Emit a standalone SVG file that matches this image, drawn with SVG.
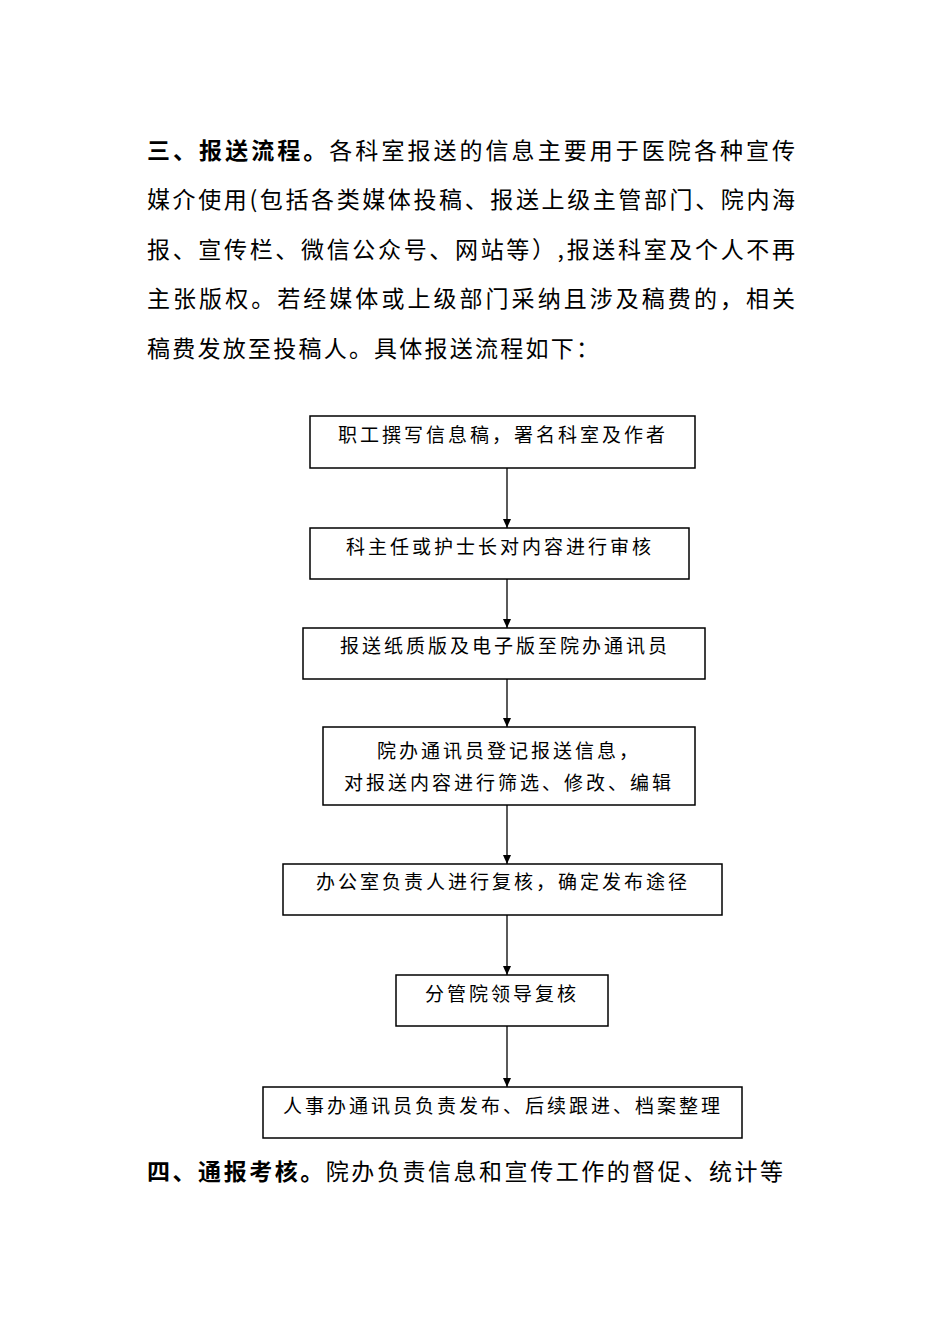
<svg xmlns="http://www.w3.org/2000/svg" width="950" height="1344" viewBox="0 0 950 1344">
<style>
.p{font-family:"Noto Sans CJK SC",sans-serif;font-size:23px;fill:#000}
.b{font-weight:bold}
.t{font-family:"Noto Sans CJK SC",sans-serif;font-size:19px;fill:#000;text-anchor:middle;letter-spacing:3px}
.n{fill:#fff;stroke:#000;stroke-width:1.5}
.c{stroke:#000;stroke-width:1.3;marker-end:url(#a)}
</style>
<defs><marker id="a" markerWidth="10" markerHeight="10" refX="9" refY="5" orient="auto" markerUnits="userSpaceOnUse"><path d="M0,1 L9,5 L0,9 Z" fill="#000"/></marker></defs>
<rect width="950" height="1344" fill="#fff"/>
<g id="text">
<text class="p" x="147" y="159" textLength="648"><tspan class="b">三、报送流程。</tspan>各科室报送的信息主要用于医院各种宣传</text>
<text class="p" x="147" y="208" textLength="648">媒介使用(包括各类媒体投稿、报送上级主管部门、院内海</text>
<text class="p" x="147" y="258" textLength="648">报、宣传栏、微信公众号、网站等）,报送科室及个人不再</text>
<text class="p" x="147" y="307" textLength="648">主张版权。若经媒体或上级部门采纳且涉及稿费的，相关</text>
<text class="p" x="147" y="357" textLength="452">稿费发放至投稿人。具体报送流程如下：</text>
<text class="p" x="147" y="1180" textLength="636"><tspan class="b">四、通报考核。</tspan>院办负责信息和宣传工作的督促、统计等</text>
</g>
<g id="connectors">
<line class="c" x1="507" y1="468" x2="507" y2="528"/>
<line class="c" x1="507" y1="579" x2="507" y2="628"/>
<line class="c" x1="507" y1="679" x2="507" y2="727"/>
<line class="c" x1="507" y1="805" x2="507" y2="864"/>
<line class="c" x1="507" y1="915" x2="507" y2="975"/>
<line class="c" x1="507" y1="1026" x2="507" y2="1087"/>
</g>
<g id="n1"><rect class="n" x="310" y="416" width="385" height="52"/><text class="t" x="503" y="442">职工撰写信息稿，署名科室及作者</text></g>
<g id="n2"><rect class="n" x="310" y="528" width="379" height="51"/><text class="t" x="500" y="554">科主任或护士长对内容进行审核</text></g>
<g id="n3"><rect class="n" x="303" y="628" width="402" height="51"/><text class="t" x="505" y="653">报送纸质版及电子版至院办通讯员</text></g>
<g id="n4"><rect class="n" x="323" y="727" width="372" height="78"/><text class="t" x="509" y="758">院办通讯员登记报送信息，</text><text class="t" x="509" y="790">对报送内容进行筛选、修改、编辑</text></g>
<g id="n5"><rect class="n" x="283" y="864" width="439" height="51"/><text class="t" x="503" y="889">办公室负责人进行复核，确定发布途径</text></g>
<g id="n6"><rect class="n" x="396" y="975" width="212" height="51"/><text class="t" x="502" y="1001">分管院领导复核</text></g>
<g id="n7"><rect class="n" x="263" y="1087" width="479" height="51"/><text class="t" x="503" y="1113">人事办通讯员负责发布、后续跟进、档案整理</text></g>
</svg>
